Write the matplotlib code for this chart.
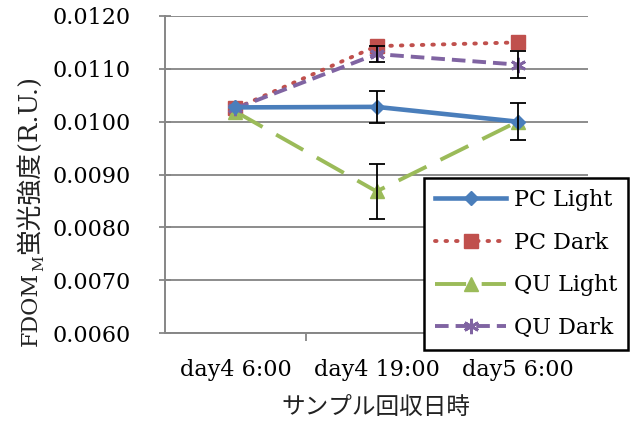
import matplotlib
matplotlib.use("Agg")
import matplotlib.pyplot as plt
import matplotlib.transforms as mtransforms
import numpy as np

categories = ["day4 6:00", "day4 19:00", "day5 6:00"]
series_names = ["PC Light", "PC Dark", "QU Light", "QU Dark"]
pc_light = [0.01027, 0.01028, 0.01000]
pc_dark = [0.01025, 0.01143, 0.01150]
qu_light = [0.01019, 0.00868, 0.01000]
qu_dark = [0.01025, 0.01128, 0.01108]
pc_light_err = [0.0, 0.00030, 0.00035]
pc_dark_err = [0.0, 0.0, 0.0]
qu_light_err = [0.0, 0.00052, 0.0]
qu_dark_err = [0.0, 0.00015, 0.00025]
yticks = [0.0060, 0.0070, 0.0080, 0.0090, 0.0100, 0.0110, 0.0120]
xlabel = "サンプル回収日時"

SERIF = "DejaVu Serif"
CJK = "Noto Sans CJK JP"
plt.rcParams["font.family"] = [SERIF, CJK]

fig = plt.figure(figsize=(6.37, 4.21), dpi=100)
W, H = 637, 421
ax = fig.add_axes([165 / W, 1 - 333 / H, (588 - 165) / W, (333 - 16) / H])

x = np.arange(len(categories))
styles = [
    dict(color="#4A7EBB", lw=3.3, ls="-", marker="D", ms=7, zorder=5),
    dict(color="#C0504D", lw=2.8, ls=(0, (0.4, 2.3)), dash_capstyle="round", marker="s", ms=10, zorder=3),
    dict(color="#9BBB59", lw=2.8, ls=(0, (8, 4)), marker="^", ms=10, zorder=4),
    dict(color="#8064A2", lw=2.8, ls=(0, (3.5, 1.8)), marker=(6, 2, 0), ms=11, mew=2, zorder=4),
]
data = [pc_light, pc_dark, qu_light, qu_dark]
errs = [pc_light_err, pc_dark_err, qu_light_err, qu_dark_err]
for name, vals, st in zip(series_names, data, styles):
    st = dict(st)
    c = st["color"]
    ax.plot(x, vals, label=name, mfc=c, mec=c, **st)
for vals, e in zip(data, errs):
    v = np.array(vals)
    e = np.array(e)
    m = e > 0
    if m.any():
        ax.errorbar(x[m], v[m], yerr=e[m], fmt="none", ecolor="black", elinewidth=1.3,
                    capsize=6, capthick=1.3, zorder=6)

ax.set_xlim(-0.5, 2.5)
ax.set_ylim(0.0060, 0.0120)
ax.set_yticks(yticks)
ax.set_yticklabels([f"{t:.4f}" for t in yticks], fontsize=16, family=SERIF)
ax.set_xticks(x)
ax.set_xticklabels(categories, fontsize=16, family=SERIF)
ax.set_xticks([0.5, 1.5, 2.5], minor=True)
ax.tick_params(axis="x", which="major", length=0, pad=19)
ax.tick_params(axis="x", which="minor", length=6, color="#868686", width=1.3)
ax.tick_params(axis="y", which="major", direction="inout", length=9, color="#868686",
               width=1.3, pad=20)
ax.grid(axis="y", color="#8C8C8C", lw=1.4)
ax.set_axisbelow(True)
for s in ["top", "right"]:
    ax.spines[s].set_visible(False)
for s in ["left", "bottom"]:
    ax.spines[s].set_color("#868686")
    ax.spines[s].set_linewidth(1.4)

fig.text(376 / W, 1 - 408 / H, xlabel, fontsize=17, family=[CJK], ha="center", va="center",
         color="#222222")

leg = fig.legend(loc="upper left", bbox_to_anchor=(424 / W, 1 - 178 / H), fontsize=16,
                 frameon=True, fancybox=False, edgecolor="black", framealpha=1,
                 handlelength=3.2, handletextpad=0.35, labelspacing=0.93, borderpad=0.5,
                 borderaxespad=0)
leg.get_frame().set_linewidth(1.8)
for t in leg.get_texts():
    t.set_family(SERIF)

# y label built from pieces (rotated)
ident = mtransforms.IdentityTransform()
renderer = fig.canvas.get_renderer()
bx = 37
ycur = H - 346
pieces = [("FDOM", 16, [SERIF], 0), ("M", 11, [SERIF], 6), ("蛍光強度", 18.5, [CJK], 0),
          ("(R.U.)", 18.5, [SERIF], 0)]
for txt, fs, fam, dx in pieces:
    t = fig.text(bx + dx, ycur, txt, fontsize=fs, family=fam, rotation=90,
                 rotation_mode="anchor", ha="left", va="baseline", transform=ident,
                 color="#222222")
    bb = t.get_window_extent(renderer)
    ycur = bb.y1 + 1

fig.savefig("out.png", dpi=100)
